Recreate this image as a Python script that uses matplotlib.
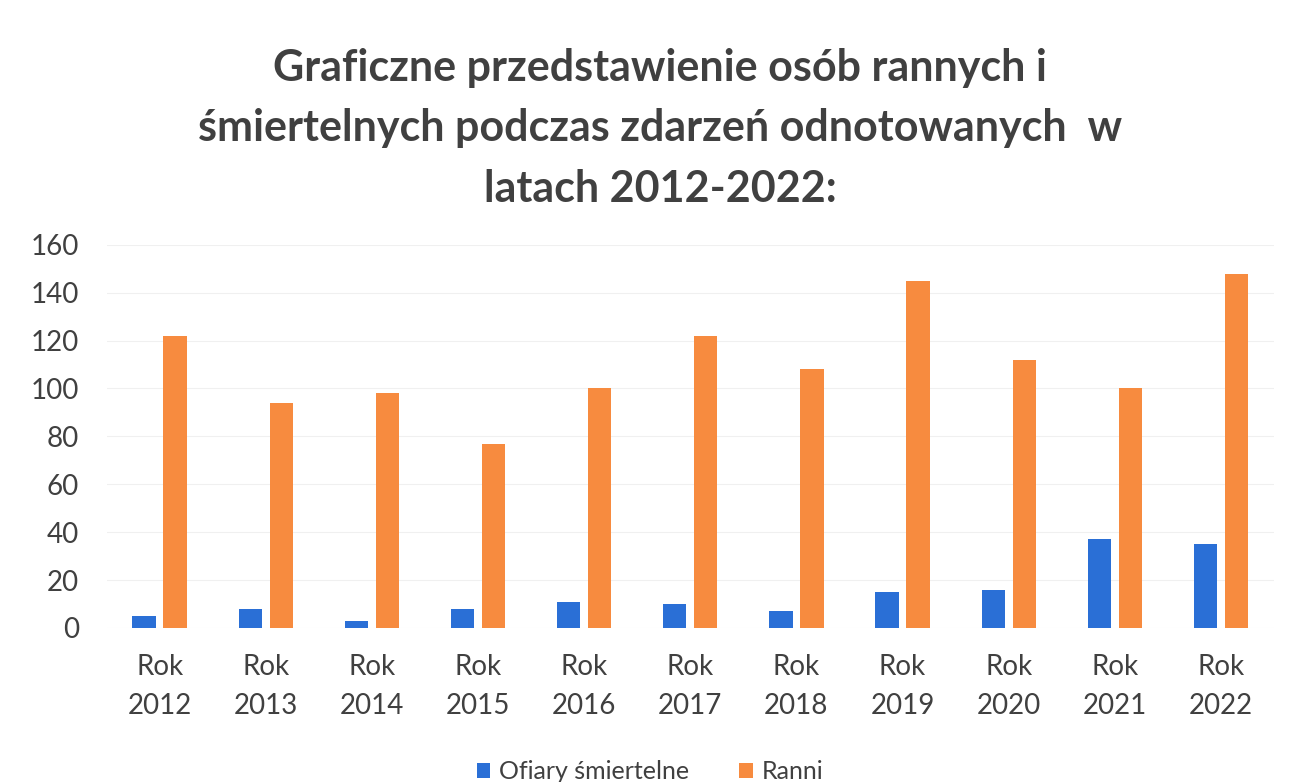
import matplotlib
matplotlib.use('Agg')
import matplotlib.pyplot as plt
import numpy as np

plt.rcParams['font.family'] = ['Lato', 'DejaVu Sans']

YEARS = ['2012', '2013', '2014', '2015', '2016', '2017', '2018', '2019', '2020', '2021', '2022']
OFIARY = [5, 8, 3, 8, 11, 10, 7, 15, 16, 37, 35]
RANNI = [122, 94, 98, 77, 100, 122, 108, 145, 112, 100, 148]
TITLE = ('Graficzne przedstawienie osób rannych i\n'
         'śmiertelnych podczas zdarzeń odnotowanych  w\n'
         'latach 2012-2022:')

BLUE = '#2a6fd6'
ORANGE = '#f78b3f'
TEXT = '#404040'

fig = plt.figure(figsize=(13, 7.82), dpi=100)
ax = fig.add_axes([0.082, 0.197, 0.898, 0.49])

x = np.arange(len(YEARS))
w = 0.22
ax.bar(x - 0.146, OFIARY, width=w, color=BLUE, label='Ofiary śmiertelne')
ax.bar(x + 0.146, RANNI, width=w, color=ORANGE, label='Ranni')

ax.set_ylim(0, 160)
ax.set_yticks(range(0, 161, 20))
ax.set_xlim(-0.5, len(YEARS) - 0.5)
ax.set_xticks(x)
ax.set_xticklabels(['Rok\n' + y for y in YEARS], linespacing=1.6)
ax.grid(True, axis='y', color='#f0f0f0', lw=0.8)
ax.set_axisbelow(True)
for s in ax.spines.values():
    s.set_visible(False)
ax.tick_params(axis='both', length=0, labelsize=20, colors=TEXT)
ax.tick_params(axis='y', pad=20)
ax.tick_params(axis='x', pad=19)

fig.text(0.508, 0.836, TITLE, ha='center', va='center', fontsize=31,
         fontweight='bold', color=TEXT, linespacing=1.62)

fig.legend(loc='lower center', bbox_to_anchor=(0.5, -0.03), ncol=2, frameon=False,
           fontsize=18, handlelength=0.55, handleheight=0.55, handletextpad=0.35,
           columnspacing=2.0, labelcolor=TEXT)

fig.savefig('out.png', dpi=100)
